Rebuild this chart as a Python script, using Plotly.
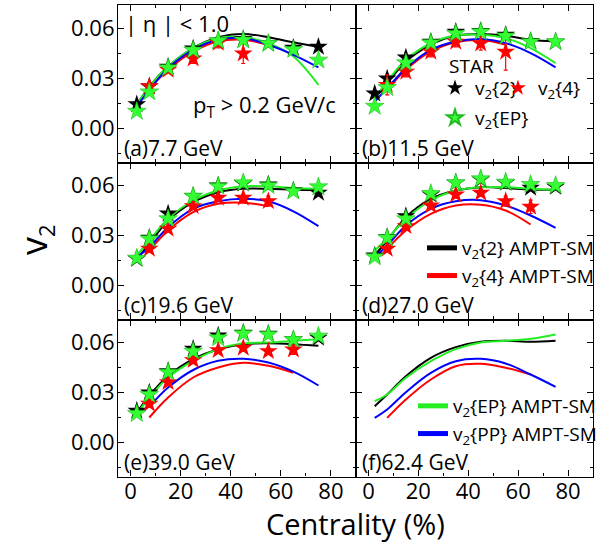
import plotly.graph_objects as go
from plotly.subplots import make_subplots

# ---------------- data ----------------
cent = [2.5, 7.5, 15, 25, 35, 45, 55, 65, 75]
energies = ["7.7", "11.5", "19.6", "27.0", "39.0", "62.4"]
letters = ["a", "b", "c", "d", "e", "f"]

# STAR measurements
star_v2_2 = {
    "7.7":  [0.0144, 0.0250, 0.0368, 0.0478, 0.0524, 0.0534, 0.0508, 0.0482, 0.0488],
    "11.5": [0.0208, 0.0298, 0.0424, 0.0518, 0.0578, 0.0582, 0.0560, 0.0522, 0.0518],
    "19.6": [0.0160, 0.0286, 0.0432, 0.0536, 0.0600, 0.0612, 0.0606, 0.0570, 0.0556],
    "27.0": [0.0180, 0.0290, 0.0416, 0.0546, 0.0616, 0.0636, 0.0616, 0.0586, 0.0592],
    "39.0": [0.0190, 0.0300, 0.0428, 0.0562, 0.0642, 0.0658, 0.0652, 0.0618, 0.0628],
}
star_v2_4 = {
    "7.7":  [None, 0.0252, 0.0350, 0.0418, 0.0512, 0.0448, None, None, None],
    "11.5": [None, 0.0260, 0.0338, 0.0458, 0.0518, 0.0508, 0.0458, None, None],
    "19.6": [None, 0.0220, 0.0340, 0.0476, 0.0526, 0.0526, 0.0506, None, None],
    "27.0": [None, 0.0220, 0.0356, 0.0480, 0.0546, 0.0556, 0.0506, 0.0472, None],
    "39.0": [None, 0.0232, 0.0362, 0.0494, 0.0554, 0.0568, 0.0548, 0.0558, None],
}
star_v2_4_err = {
    "7.7":  [0, 0.002, 0.002, 0.003, 0.003, 0.006, 0, 0, 0],
    "11.5": [0, 0.006, 0.003, 0.003, 0.003, 0.004, 0.011, 0, 0],
    "19.6": [0, 0.002, 0.002, 0.002, 0.002, 0.002, 0.003, 0, 0],
    "27.0": [0, 0.002, 0.002, 0.002, 0.002, 0.002, 0.003, 0.004, 0],
    "39.0": [0, 0.002, 0.002, 0.002, 0.002, 0.002, 0.002, 0.003, 0],
}
star_v2_ep = {
    "7.7":  [0.0102, 0.0218, 0.0362, 0.0468, 0.0524, 0.0528, 0.0508, 0.0472, 0.0408],
    "11.5": [0.0132, 0.0244, 0.0392, 0.0512, 0.0568, 0.0578, 0.0552, 0.0518, 0.0518],
    "19.6": [0.0164, 0.0280, 0.0400, 0.0536, 0.0596, 0.0616, 0.0600, 0.0566, 0.0592],
    "27.0": [0.0172, 0.0286, 0.0400, 0.0552, 0.0616, 0.0640, 0.0620, 0.0606, 0.0600],
    "39.0": [0.0174, 0.0288, 0.0422, 0.0548, 0.0628, 0.0654, 0.0648, 0.0618, 0.0638],
}

# AMPT-SM model curves
ampt_v2_2 = {
    "7.7":  [0.0140, 0.0250, 0.0370, 0.0480, 0.0545, 0.0565, 0.0545, 0.0515, 0.0488],
    "11.5": [0.0180, 0.0270, 0.0400, 0.0500, 0.0555, 0.0565, 0.0555, 0.0530, 0.0520],
    "19.6": [0.0160, 0.0250, 0.0390, 0.0500, 0.0560, 0.0580, 0.0580, 0.0575, 0.0572],
    "27.0": [0.0180, 0.0270, 0.0410, 0.0520, 0.0570, 0.0590, 0.0585, 0.0575, 0.0575],
    "39.0": [0.0180, 0.0280, 0.0400, 0.0500, 0.0560, 0.0590, 0.0595, 0.0590, 0.0580],
    "62.4": [0.0218, 0.0288, 0.0398, 0.0508, 0.0572, 0.0604, 0.0610, 0.0604, 0.0610],
}
ampt_v2_4 = {
    "7.7":  [None, 0.0240, 0.0350, 0.0460, 0.0520, 0.0530, 0.0500, None, None],
    "11.5": [None, 0.0230, 0.0350, 0.0460, 0.0515, 0.0530, 0.0500, None, None],
    "19.6": [None, 0.0210, 0.0330, 0.0440, 0.0490, 0.0497, 0.0476, None, None],
    "27.0": [None, 0.0220, 0.0330, 0.0430, 0.0480, 0.0485, 0.0450, 0.0366, None],
    "39.0": [None, 0.0150, 0.0270, 0.0390, 0.0450, 0.0478, 0.0460, 0.0418, None],
    "62.4": [None, 0.0148, 0.0258, 0.0378, 0.0458, 0.0472, 0.0448, 0.0408, None],
}
ampt_v2_ep = {
    "7.7":  [0.0140, 0.0250, 0.0370, 0.0480, 0.0540, 0.0545, 0.0510, 0.0430, 0.0260],
    "11.5": [0.0180, 0.0280, 0.0410, 0.0510, 0.0555, 0.0560, 0.0540, 0.0480, 0.0390],
    "19.6": [0.0180, 0.0270, 0.0400, 0.0510, 0.0570, 0.0595, 0.0595, 0.0585, 0.0580],
    "27.0": [0.0210, 0.0280, 0.0400, 0.0510, 0.0570, 0.0590, 0.0590, 0.0580, 0.0575],
    "39.0": [0.0170, 0.0270, 0.0390, 0.0490, 0.0560, 0.0595, 0.0600, 0.0610, 0.0620],
    "62.4": [0.0248, 0.0288, 0.0388, 0.0488, 0.0560, 0.0600, 0.0610, 0.0622, 0.0648],
}
ampt_v2_pp = {
    "7.7":  [0.0130, 0.0230, 0.0360, 0.0470, 0.0530, 0.0540, 0.0500, 0.0440, 0.0365],
    "11.5": [0.0160, 0.0240, 0.0360, 0.0470, 0.0520, 0.0535, 0.0510, 0.0450, 0.0365],
    "19.6": [0.0170, 0.0230, 0.0350, 0.0460, 0.0505, 0.0520, 0.0505, 0.0445, 0.0356],
    "27.0": [0.0170, 0.0240, 0.0360, 0.0460, 0.0505, 0.0512, 0.0480, 0.0420, 0.0346],
    "39.0": [0.0160, 0.0220, 0.0330, 0.0435, 0.0490, 0.0502, 0.0480, 0.0425, 0.0342],
    "62.4": [0.0148, 0.0198, 0.0302, 0.0418, 0.0488, 0.0502, 0.0474, 0.0408, 0.0334],
}

x_ticks = [0, 20, 40, 60, 80]
y_ticks = [0.00, 0.03, 0.06]

# ---------------- styling ----------------
FONT = "Open Sans"
BLACK = "#000000"
RED = "#ff0000"
GREEN = "#22ee22"
GREEN_M = "#33ff33"
BLUE = "#0000ff"
W, H = 609, 550
xcols = [(118 / W, 356 / W), (356 / W, 593 / W)]
yrows = [(1 - 162.5 / H, 1 - 5 / H), (1 - 319.5 / H, 1 - 162.5 / H), (1 - 476.5 / H, 1 - 319.5 / H)]

fig = make_subplots(rows=3, cols=2, horizontal_spacing=0, vertical_spacing=0)

for i, e in enumerate(energies):
    r, c = i // 2 + 1, i % 2 + 1
    # model curves
    for vals, col, name, leg, show in [
        (ampt_v2_2[e], BLACK, "v<sub>2</sub>{2} AMPT-SM", "legend3", i == 3),
        (ampt_v2_4[e], RED, "v<sub>2</sub>{4} AMPT-SM", "legend3", i == 3),
        (ampt_v2_ep[e], GREEN, "v<sub>2</sub>{EP} AMPT-SM", "legend4", i == 5),
        (ampt_v2_pp[e], BLUE, "v<sub>2</sub>{PP} AMPT-SM", "legend4", i == 5),
    ]:
        fig.add_trace(go.Scatter(x=cent, y=vals, mode="lines", name=name,
                                 line=dict(color=col, width=2, shape="spline", smoothing=1.0),
                                 showlegend=show, legend=leg), row=r, col=c)
    if e in star_v2_2:
        fig.add_trace(go.Scatter(x=cent, y=star_v2_2[e], mode="markers", name="v<sub>2</sub>{2}",
                                 marker=dict(symbol="star", size=14, color=BLACK, line=dict(width=0)),
                                 showlegend=(i == 1), legend="legend"), row=r, col=c)
        fig.add_trace(go.Scatter(x=cent, y=star_v2_4[e], mode="markers", name="v<sub>2</sub>{4}",
                                 marker=dict(symbol="star", size=14, color=RED, line=dict(width=0)),
                                 error_y=dict(type="data", array=star_v2_4_err[e], color=RED,
                                              thickness=1.2, width=2),
                                 showlegend=(i == 1), legend="legend5"), row=r, col=c)
        fig.add_trace(go.Scatter(x=cent, y=star_v2_ep[e], mode="markers", name="v<sub>2</sub>{EP}",
                                 marker=dict(symbol="star", size=14, color=GREEN_M,
                                             line=dict(width=0.6, color="#22bb22")),
                                 showlegend=(i == 1), legend="legend2"), row=r, col=c)

axis_common = dict(showline=True, linecolor="black", linewidth=1.2, mirror="ticks",
                   ticks="inside", ticklen=6, tickwidth=1.2, tickcolor="black",
                   showgrid=False, zeroline=False,
                   tickfont=dict(family=FONT, size=22, color="black"))

for i in range(6):
    r, c = i // 2, i % 2
    n = "" if i == 0 else str(i + 1)
    fig.layout["xaxis" + n].update(domain=list(xcols[c]), range=[-5, 90], tickvals=x_ticks,
                                   ticklabelstandoff=-5,
                                   minor=dict(ticks="inside", ticklen=3, dtick=10, tick0=0,
                                              tickcolor="black", tickwidth=1),
                                   showticklabels=(r == 2), **axis_common)
    fig.layout["yaxis" + n].update(domain=list(yrows[r]), range=[-0.0204, 0.0738], tickvals=y_ticks,
                                   tickformat=".2f", ticklabelstandoff=-2,
                                   minor=dict(ticks="inside", ticklen=3, dtick=0.015, tick0=0,
                                              tickcolor="black", tickwidth=1),
                                   showticklabels=(c == 0), **axis_common)

ann = []
for i, e in enumerate(energies):
    n = "" if i == 0 else str(i + 1)
    ann.append(dict(text=f"({letters[i]}){e} GeV", xref=f"x{n} domain", yref=f"y{n} domain",
                    x=0.015, y=0.095, xanchor="left", yanchor="middle", showarrow=False,
                    font=dict(family=FONT, size=21, color="black")))
ann.append(dict(text="| η | < 1.0", xref="x domain", yref="y domain", x=0.022, y=0.885,
                xanchor="left", yanchor="middle", showarrow=False,
                font=dict(family=FONT, size=22, color="black")))
ann.append(dict(text="p<sub>T</sub> > 0.2 GeV/c", xref="x domain", yref="y domain", x=0.305, y=0.36,
                xanchor="left", yanchor="middle", showarrow=False,
                font=dict(family=FONT, size=22, color="black")))
ann.append(dict(text="STAR", xref="x2 domain", yref="y2 domain", x=(447 - 356) / 237, y=1 - 61 / 157.5,
                xanchor="left", yanchor="middle", showarrow=False,
                font=dict(family=FONT, size=19, color="black")))
ann.append(dict(text="Centrality (%)", xref="paper", yref="paper", x=355.5 / W, y=1 - 523 / H,
                xanchor="center", yanchor="middle", showarrow=False,
                font=dict(family=FONT, size=29, color="black")))
ann.append(dict(text="v<sub><span style='font-size:22px'>2</span></sub>", xref="paper", yref="paper",
                x=35 / W, y=1 - 240 / H, textangle=-90,
                xanchor="center", yanchor="middle", showarrow=False,
                font=dict(family=FONT, size=36, color="black")))

leg_common = dict(bgcolor="rgba(0,0,0,0)", borderwidth=0, xanchor="left", yanchor="top",
                  itemsizing="constant", tracegroupgap=0, orientation="v")
fig.update_layout(
    width=W, height=H, margin=dict(l=0, r=0, t=0, b=0),
    paper_bgcolor="white", plot_bgcolor="white",
    font=dict(family=FONT, color="black"),
    annotations=ann,
    legend=dict(x=435 / W, y=1 - 69 / H, font=dict(family=FONT, size=19), **leg_common),
    legend5=dict(x=498 / W, y=1 - 69 / H, font=dict(family=FONT, size=19), **leg_common),
    legend2=dict(x=435 / W, y=1 - 99 / H, font=dict(family=FONT, size=19), **leg_common),
    legend3=dict(x=422 / W, y=1 - 229 / H, font=dict(family=FONT, size=19), **leg_common),
    legend4=dict(x=413 / W, y=1 - 387 / H, font=dict(family=FONT, size=19), **leg_common),
)

fig.write_html("out.html", config={"displayModeBar": False},
               post_script="document.body.style.margin='0';")
